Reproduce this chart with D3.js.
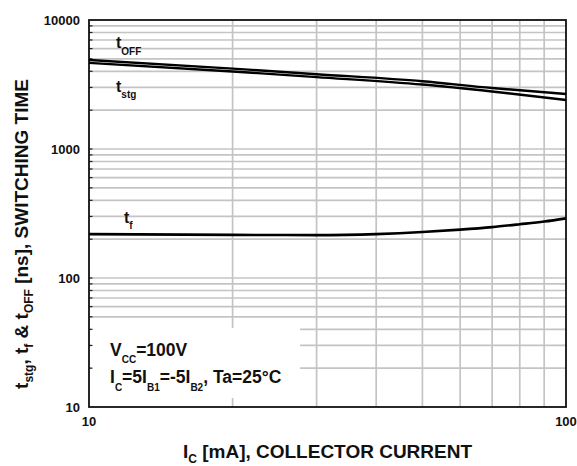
<!DOCTYPE html>
<html>
<head>
<meta charset="utf-8">
<script src="https://cdn.jsdelivr.net/npm/d3@7"></script>
<style>
html,body{margin:0;padding:0;background:#fff;}
svg{display:block;font-family:"Liberation Sans",Arial,sans-serif;}
</style>
</head>
<body>
<svg id="chart" width="577" height="466"></svg>
<script>
// ---- data ----
const icMain = [10, 20, 30, 50, 70, 100];          // collector current, mA
const tOff   = [4900, 4200, 3800, 3350, 2970, 2670]; // ns
const tStg   = [4650, 3990, 3610, 3160, 2790, 2400]; // ns
const icFall = [10, 20, 30, 40, 50, 60, 70, 80, 90, 100];
const tFall  = [219, 216, 215, 219, 227, 237, 248, 261, 274, 290]; // ns
const xTickLabels = [10, 100];
const yTickLabels = [10, 100, 1000, 10000];

// ---- layout ----
const L = 89, R = 566, T = 20, B = 407;
const svg = d3.select("#chart");
const x = d3.scaleLog().domain([10, 100]).range([L, R]);
const y = d3.scaleLog().domain([10, 10000]).range([B, T]);

const gridX = d3.range(2, 10).map(k => k * 10);
const gridY = [];
[10, 100, 1000].forEach(d => { for (let k = 1; k <= 9; k++) { const v = k * d; if (v > 10) gridY.push(v); } });

// grid
svg.append("g").selectAll("line").data(gridX).join("line")
  .attr("x1", d => x(d)).attr("x2", d => x(d)).attr("y1", T).attr("y2", B)
  .attr("stroke", "#c4c4c4").attr("stroke-width", 1.7);
svg.append("g").selectAll("line").data(gridY).join("line")
  .attr("x1", L).attr("x2", R).attr("y1", d => y(d)).attr("y2", d => y(d))
  .attr("stroke", "#c4c4c4").attr("stroke-width", 1.7);

// annotation box (white background)
svg.append("rect").attr("x", L + 2).attr("y", 328).attr("width", 300 - L - 2).attr("height", 70).attr("fill", "#fff");

// left minor ticks
svg.append("g").selectAll("line").data(gridY).join("line")
  .attr("x1", L).attr("x2", L + 3.5).attr("y1", d => y(d)).attr("y2", d => y(d))
  .attr("stroke", "#222").attr("stroke-width", 1.2);

// frame
svg.append("rect").attr("x", L).attr("y", T).attr("width", R - L).attr("height", B - T)
  .attr("fill", "none").attr("stroke", "#111").attr("stroke-width", 1.8);

// curves
const line = d3.line().x(d => x(d[0])).y(d => y(d[1])).curve(d3.curveMonotoneX);
const addCurve = (xs, ys, w) => svg.append("path")
  .attr("d", line(xs.map((v, i) => [v, ys[i]])))
  .attr("fill", "none").attr("stroke", "#000").attr("stroke-width", w);
addCurve(icMain, tOff, 2.4);
addCurve(icMain, tStg, 2.4);
addCurve(icFall, tFall, 2.6);

// tick labels
svg.append("g").selectAll("text").data(yTickLabels).join("text")
  .attr("x", 80).attr("y", d => y(d)).attr("dy", "0.36em")
  .attr("text-anchor", "end").attr("font-size", 13).attr("font-weight", "bold")
  .attr("fill", "#111").text(d => d);
svg.append("g").selectAll("text").data(xTickLabels).join("text")
  .attr("x", d => x(d)).attr("y", 426)
  .attr("text-anchor", "middle").attr("font-size", 13).attr("font-weight", "bold")
  .attr("fill", "#111").text(d => d);

// helper for text with subscripts: parts = [[text, isSub], ...]
function richText(sel, parts, size, subSize, shift) {
  let acc = 0;
  parts.forEach(p => {
    const want = p[1] ? shift : 0;
    sel.append("tspan").text(p[0])
      .attr("font-size", p[1] ? subSize : size)
      .attr("dy", want - acc);
    acc = want;
  });
  return sel;
}

// curve labels
richText(svg.append("text").attr("x", 116).attr("y", 48).attr("font-weight", "bold").attr("fill", "#111"),
  [["t", false], ["OFF", true]], 16, 10, 7);
richText(svg.append("text").attr("x", 116).attr("y", 92).attr("font-weight", "bold").attr("fill", "#111"),
  [["t", false], ["stg", true]], 16, 10, 6);
richText(svg.append("text").attr("x", 124).attr("y", 223).attr("font-weight", "bold").attr("fill", "#111"),
  [["t", false], ["f", true]], 16, 10, 6);

// annotation text
richText(svg.append("text").attr("x", 110).attr("y", 356).attr("font-weight", "bold").attr("fill", "#111"),
  [["V", false], ["CC", true], ["=100V", false]], 17.5, 10, 7);
richText(svg.append("text").attr("x", 110).attr("y", 383).attr("font-weight", "bold").attr("fill", "#111"),
  [["I", false], ["C", true], ["=5I", false], ["B1", true], ["=-5I", false], ["B2", true], [", Ta=25°C", false]], 17.5, 10, 8);

// x axis title
richText(svg.append("text").attr("x", (L + R) / 2).attr("y", 458).attr("text-anchor", "middle")
  .attr("font-weight", "bold").attr("fill", "#111"),
  [["I", false], ["C", true], [" [mA], COLLECTOR CURRENT", false]], 19, 12, 5);

// y axis title
richText(svg.append("text").attr("transform", "translate(28," + 234 + ") rotate(-90)")
  .attr("text-anchor", "middle").attr("font-weight", "bold").attr("fill", "#111"),
  [["t", false], ["stg", true], [", t", false], ["f", true], [" & t", false], ["OFF", true], [" [ns], SWITCHING TIME", false]], 19, 12, 5);
</script>
</body>
</html>
